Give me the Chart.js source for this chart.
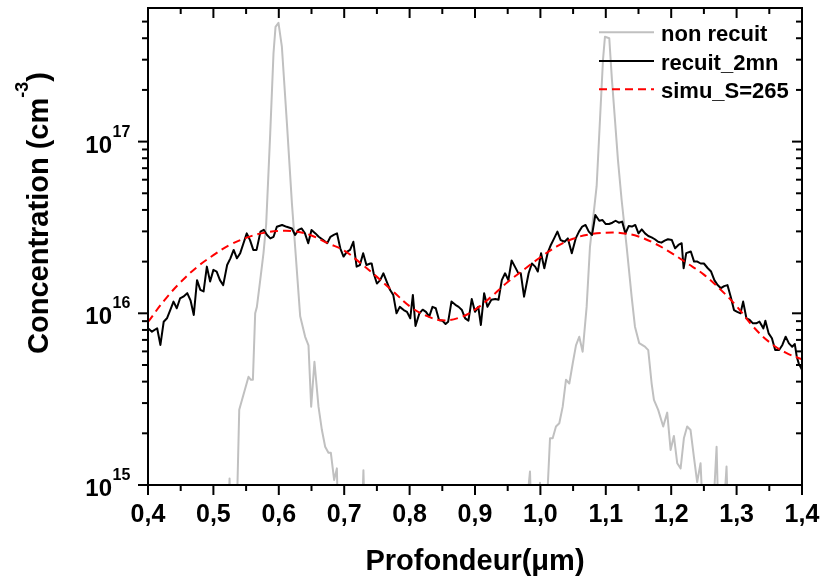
<!DOCTYPE html>
<html><head><meta charset="utf-8">
<script src="https://cdn.jsdelivr.net/npm/chart.js@4/dist/chart.umd.min.js"></script>
<style>html,body{margin:0;padding:0;background:#fff;}canvas{display:block;}</style>
</head><body>
<canvas id="c" width="823" height="582"></canvas>
<script>
// ---- axis ticks / labels ----
const xTickValues = [0.4,0.5,0.6,0.7,0.8,0.9,1.0,1.1,1.2,1.3,1.4];
const xTickLabels = ['0,4','0,5','0,6','0,7','0,8','0,9','1,0','1,1','1,2','1,3','1,4'];
const yTickExponents = [15,16,17];
const seriesNames = ['non recuit','recuit_2mn','simu_S=265'];
const xTitle = 'Profondeur(\u03bcm)';
const yTitleMain = 'Concentration (cm';
const yTitleSup = '-3';
const yTitleEnd = ')';

// ---- series: non recuit (as-implanted) ----
const grayDepth = [0.5196,0.5247,0.5288,0.5349,0.5395,0.5537,0.5574,0.5604,0.5639,0.5665,0.5716,0.5766,0.5807,0.5869,0.5919,0.5950,0.5995,0.6047,0.6124,0.6200,0.6251,0.6327,0.6403,0.6454,0.6495,0.6545,0.6607,0.6659,0.6709,0.6759,0.6796,0.6846,0.6888,0.6912,0.7015,0.7244,0.7294,0.7335,
  0.9688,0.9841,0.9887,0.9994,1.0040,1.0101,1.0147,1.0188,1.0238,1.0289,1.0341,1.0391,1.0442,1.0494,1.0544,1.0594,1.0646,1.0707,1.0758,1.0860,1.0911,1.0957,1.0987,1.1053,1.1094,1.1140,1.1186,1.1242,1.1319,1.1395,1.1446,1.1511,1.1598,1.1649,1.1701,1.1736,1.1801,1.1878,1.1939,1.1991,1.2041,1.2092,1.2144,1.2194,1.2244,1.2296,1.2347,1.2397,1.2449,1.2500,1.2591,1.2694,1.2744,1.2846,1.2897];
const grayConc = [3e14,1.09e15,3e14,5e14,2.74e15,4.27e15,4.1e15,4.1e15,1.0e16,1.09e16,1.56e16,2.24e16,3.3e16,1.12e17,3.27e17,4.66e17,4.92e17,3.57e17,1.28e17,4.4e16,2.4e16,9.6e15,7.3e15,6.5e15,2.86e15,5.22e15,2.86e15,2.09e15,1.67e15,1.54e15,1.54e15,1.07e15,1.25e15,5e14,3e14,3e14,1.22e15,3e14,
  3e14,1.2e15,3e14,1.03e15,3e14,8e14,1.87e15,1.87e15,2.19e15,2.29e15,2.86e15,4.1e15,3.9e15,5.1e15,6.5e15,7.3e15,5.97e15,1.09e16,2.44e16,5.5e16,1.34e17,2.99e17,4.08e17,4.0e17,2.29e17,1.34e17,7.8e16,4.57e16,2.44e16,1.25e16,8.36e15,6.7e15,6.4e15,6.1e15,3.9e15,3.13e15,2.74e15,2.19e15,2.64e15,1.6e15,1.93e15,1.34e15,1.25e15,1.87e15,2.19e15,2.09e15,1.46e15,1.04e15,1.34e15,5e14,3e14,1.67e15,3e14,1.28e15,3e14];

// ---- series: recuit_2mn (annealed) ----
const blackDepth = [0.400,0.406,0.414,0.419,0.424,0.429,0.434,0.439,0.444,0.449,0.454,0.460,0.465,0.470,0.475,0.480,0.485,0.490,0.495,0.500,0.505,0.510,0.515,0.521,0.526,0.531,0.536,0.541,0.546,0.551,0.556,0.561,0.566,0.572,0.577,0.582,0.587,0.592,0.597,0.605,0.612,0.620,0.625,0.630,0.635,0.640,0.645,0.650,0.656,0.661,0.668,0.674,0.679,0.684,0.689,0.694,0.699,0.704,0.709,0.714,0.719,0.724,0.729,0.734,0.740,
  0.742,0.745,0.750,0.755,0.760,0.765,0.770,0.775,0.780,0.785,0.791,0.796,0.801,0.805,0.809,0.815,0.820,0.825,0.830,0.835,0.840,0.845,0.850,0.855,0.859,0.864,0.870,0.875,0.880,0.885,0.890,0.895,0.900,0.905,0.909,0.914,0.919,0.925,0.931,0.936,0.941,0.946,0.951,0.956,0.961,0.966,0.970,0.975,0.982,0.987,0.992,0.996,1.001,1.006,1.011,1.016,1.021,1.026,1.031,1.037,1.042,1.048,1.054,1.059,1.064,1.069,1.074,
  1.079,1.084,1.090,1.095,1.100,1.105,1.110,1.115,1.120,1.125,1.130,1.135,1.140,1.145,1.150,1.155,1.160,1.165,1.170,1.175,1.180,1.185,1.190,1.195,1.201,1.206,1.211,1.216,1.219,1.223,1.230,1.235,1.240,1.245,1.250,1.256,1.261,1.266,1.271,1.276,1.281,1.286,1.291,1.296,1.301,1.306,1.310,1.315,1.320,1.325,1.330,1.335,1.341,1.344,1.349,1.354,1.359,1.365,1.370,1.375,1.380,1.385,1.389,1.392,1.395,1.400];
const blackConc = [8.18e15,7.82e15,8.18e15,6.54e15,8.93e15,9.35e15,1.045e16,1.17e16,1.07e16,1.22e16,1.25e16,1.31e16,1.19e16,9.78e15,1.56e16,1.37e16,1.34e16,1.87e16,1.53e16,1.79e16,1.75e16,1.56e16,1.46e16,1.91e16,2.09e16,2.34e16,2.09e16,2.24e16,2.56e16,2.92e16,2.67e16,2.34e16,2.34e16,2.99e16,3.06e16,2.86e16,2.73e16,2.79e16,3.19e16,3.27e16,3.19e16,3.12e16,2.86e16,3.06e16,3.12e16,2.92e16,2.56e16,3.06e16,2.92e16,2.79e16,2.67e16,2.56e16,2.79e16,2.86e16,2.92e16,2.39e16,2.14e16,2.28e16,2.34e16,2.61e16,1.87e16,1.91e16,2.24e16,1.91e16,1.95e16,
  1.95e16,1.71e16,1.49e16,1.56e16,1.71e16,1.53e16,1.37e16,1.28e16,1.00e16,1.09e16,1.045e16,1.02e16,9.35e15,1.28e16,8.43e15,1.00e16,1.05e16,1.02e16,9.56e15,1.09e16,1.07e16,9.14e15,9.06e15,8.66e15,8.94e15,1.17e16,1.12e16,1.09e16,1.045e16,9.35e15,9.06e15,1.21e16,1.02e16,1.09e16,8.55e15,1.31e16,1.09e16,1.20e16,1.21e16,1.20e16,1.56e16,1.71e16,1.56e16,2.03e16,1.87e16,1.72e16,1.71e16,1.25e16,1.71e16,1.95e16,1.87e16,1.75e16,2.24e16,1.83e16,2.24e16,2.50e16,2.73e16,2.99e16,2.67e16,2.61e16,2.73e16,2.24e16,2.73e16,2.99e16,3.20e16,3.27e16,2.99e16,
  2.86e16,3.74e16,3.46e16,3.49e16,3.31e16,3.31e16,3.37e16,3.46e16,3.37e16,3.42e16,2.92e16,3.22e16,3.20e16,3.27e16,2.92e16,3.08e16,2.92e16,2.82e16,2.77e16,2.70e16,2.61e16,2.58e16,2.65e16,2.70e16,2.67e16,2.39e16,2.50e16,2.56e16,1.83e16,2.24e16,2.29e16,2.00e16,2.00e16,1.95e16,1.95e16,1.83e16,1.75e16,1.56e16,1.46e16,1.40e16,1.44e16,1.46e16,1.25e16,1.045e16,1.02e16,1.00e16,1.17e16,9.35e15,9.14e15,8.74e15,8.74e15,8.94e15,8.17e15,9.06e15,7.64e15,7.15e15,6.11e15,6.11e15,6.54e15,7.31e15,6.68e15,6.39e15,6.62e15,5.59e15,5.11e15,4.68e15];

// ---- series: simu_S=265 ----
const simuDepth = [0.400,0.425,0.450,0.475,0.500,0.525,0.550,0.575,0.600,0.625,0.650,0.675,0.700,0.725,0.750,0.775,0.800,0.825,0.850,0.875,0.900,0.925,0.950,0.975,1.000,1.025,1.050,1.075,1.100,1.125,1.150,1.175,1.200,1.225,1.250,1.275,1.300,1.325,1.350,1.375,1.400];
const simuConc = [8.9e15,1.19e16,1.52e16,1.86e16,2.18e16,2.5e16,2.75e16,2.93e16,3.02e16,3.0e16,2.84e16,2.56e16,2.32e16,1.96e16,1.63e16,1.34e16,1.1e16,9.7e15,9.1e15,9.4e15,1.05e16,1.25e16,1.52e16,1.8e16,2.12e16,2.45e16,2.72e16,2.88e16,2.95e16,2.93e16,2.8e16,2.55e16,2.25e16,1.95e16,1.68e16,1.38e16,1.1e16,8.4e15,6.8e15,5.9e15,5.4e15];

const FONT = '"Liberation Sans", Arial, Helvetica, sans-serif';
const GRAY = '#c0c0c0';
const pts = (xs, ys) => xs.map((v, i) => ({x: v, y: ys[i]}));

const framePlugin = {
  id: 'frame',
  beforeDraw(chart) {
    const c = chart.ctx; c.save(); c.fillStyle = '#fff'; c.fillRect(0, 0, chart.width, chart.height); c.restore();
  },
  afterDraw(chart) {
    const ctx = chart.ctx, a = chart.chartArea, xs = chart.scales.x, ys = chart.scales.y;
    const line = (x1, y1, x2, y2) => { ctx.beginPath(); ctx.moveTo(x1, y1); ctx.lineTo(x2, y2); ctx.stroke(); };
    ctx.save();
    ctx.strokeStyle = '#000'; ctx.lineCap = 'butt';
    ctx.lineWidth = 2;
    xTickValues.forEach((v, i) => {
      const px = xs.getPixelForValue(v);
      line(px, a.bottom, px, a.bottom + 10);
      line(px, a.top, px, a.top + 10);
      if (i < xTickValues.length - 1) {
        const pm = xs.getPixelForValue(v + 0.05);
        line(pm, a.bottom, pm, a.bottom + 6);
        line(pm, a.top, pm, a.top + 6);
      }
    });
    yTickExponents.forEach(p => {
      const base = Math.pow(10, p);
      const py = ys.getPixelForValue(base);
      line(a.left - 10, py, a.left, py);
      line(a.right - 10, py, a.right, py);
      for (let m = 2; m <= 9; m++) {
        const v = m * base;
        if (v > ys.max * 0.999) break;
        const pm = ys.getPixelForValue(v);
        line(a.left - 6, pm, a.left, pm);
        line(a.right - 6, pm, a.right, pm);
      }
    });
    ctx.lineWidth = 2;
    ctx.strokeRect(a.left, a.top, a.right - a.left, a.bottom - a.top);
    ctx.fillStyle = '#000';
    ctx.font = 'bold 25px ' + FONT;
    ctx.textAlign = 'center'; ctx.textBaseline = 'alphabetic';
    xTickValues.forEach((v, i) => ctx.fillText(xTickLabels[i], xs.getPixelForValue(v), a.bottom + 37));
    yTickExponents.forEach(p => {
      const py = ys.getPixelForValue(Math.pow(10, p));
      ctx.font = 'bold 24px ' + FONT; ctx.textAlign = 'right';
      ctx.fillText('10', 112, py + 11);
      ctx.font = 'bold 16px ' + FONT; ctx.textAlign = 'left';
      ctx.fillText(String(p), 112.5, py - 5);
    });
    ctx.font = 'bold 29px ' + FONT; ctx.textAlign = 'center';
    ctx.fillText(xTitle, (a.left + a.right) / 2, 570);
    ctx.save();
    ctx.translate(48, 213);
    ctx.rotate(-Math.PI / 2);
    ctx.textAlign = 'left';
    ctx.font = 'bold 29px ' + FONT;
    const w1 = ctx.measureText(yTitleMain).width, w3 = ctx.measureText(yTitleEnd).width;
    ctx.font = 'bold 18px ' + FONT;
    const w2 = ctx.measureText(yTitleSup).width;
    let x0 = -(w1 + w2 + w3) / 2;
    ctx.font = 'bold 29px ' + FONT; ctx.fillText(yTitleMain, x0, 0); x0 += w1;
    ctx.font = 'bold 18px ' + FONT; ctx.fillText(yTitleSup, x0, -20); x0 += w2;
    ctx.font = 'bold 29px ' + FONT; ctx.fillText(yTitleEnd, x0, 0);
    ctx.restore();
    const rows = [32.3, 61, 89.3];
    const ds = chart.data.datasets;
    ctx.font = 'bold 22px ' + FONT; ctx.textAlign = 'left';
    seriesNames.forEach((name, i) => {
      const d = ds[i];
      ctx.save();
      ctx.strokeStyle = d.borderColor; ctx.lineWidth = d.borderWidth;
      ctx.setLineDash(d.borderDash || []);
      line(599, rows[i], 654, rows[i]);
      ctx.restore();
      ctx.fillText(name, 661, rows[i] + 8.5);
    });
    ctx.restore();
  }
};

new Chart(document.getElementById('c'), {
  type: 'line',
  data: {
    datasets: [
      {label: seriesNames[0], data: pts(grayDepth, grayConc), borderColor: GRAY, borderWidth: 2, pointRadius: 0, tension: 0, order: 3, borderJoinStyle: 'round'},
      {label: seriesNames[1], data: pts(blackDepth, blackConc), borderColor: '#000000', borderWidth: 2, pointRadius: 0, tension: 0, order: 2, borderJoinStyle: 'round'},
      {label: seriesNames[2], data: pts(simuDepth, simuConc), borderColor: '#ff0000', borderWidth: 2, borderDash: [8, 5], pointRadius: 0, tension: 0.4, order: 1}
    ]
  },
  options: {
    responsive: false,
    animation: false,
    events: [],
    layout: {padding: {left: 148, right: 21, top: 8, bottom: 97}},
    scales: {
      x: {type: 'linear', min: 0.4, max: 1.4, display: false},
      y: {type: 'logarithmic', min: 1e15, max: 6e17, display: false}
    },
    plugins: {legend: {display: false}, tooltip: {enabled: false}}
  },
  plugins: [framePlugin]
});
</script>
</body></html>
